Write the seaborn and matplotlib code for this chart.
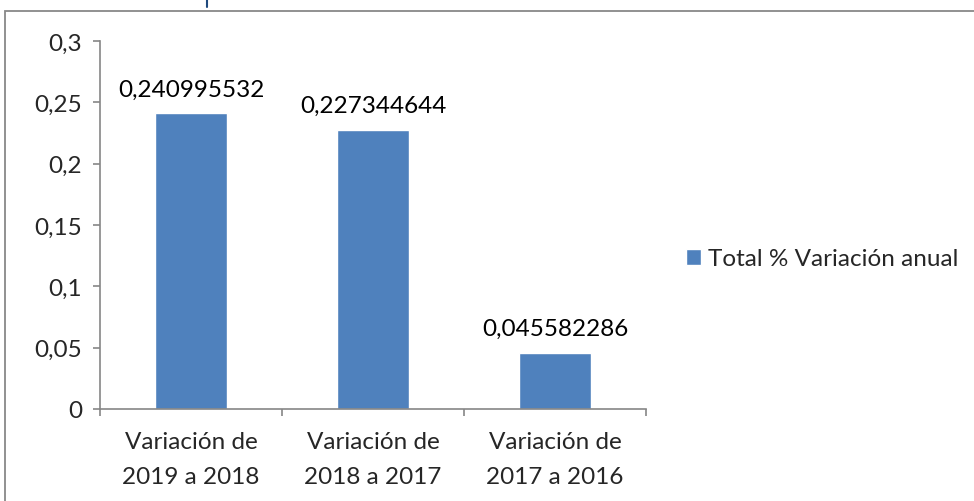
import matplotlib
matplotlib.use("Agg")
import matplotlib.pyplot as plt
import seaborn as sns
import pandas as pd
from matplotlib.patches import Rectangle
from matplotlib.lines import Line2D

categories = ["Variación de\n2019 a 2018", "Variación de\n2018 a 2017", "Variación de\n2017 a 2016"]
values = [0.240995532, 0.227344644, 0.045582286]
value_labels = ["0,240995532", "0,227344644", "0,045582286"]
yticks = [0, 0.05, 0.1, 0.15, 0.2, 0.25, 0.3]
ytick_labels = ["0", "0,05", "0,1", "0,15", "0,2", "0,25", "0,3"]
series_name = "Total % Variación anual"

sns.set_style("white")
plt.rcParams["font.family"] = ["Lato", "DejaVu Sans"]

FS = 17.5
W, H = 974, 502
fig = plt.figure(figsize=(W / 100, H / 100), dpi=100)
ax = fig.add_axes([100 / W, 1 - 410 / H, 546 / W, 368 / H])

df = pd.DataFrame({"cat": categories, "val": values, "serie": series_name})
sns.barplot(data=df, x="cat", y="val", hue="serie", palette=["#4F81BD"],
            width=0.4, ax=ax, saturation=1, legend=True)

ax.set_xlim(-0.5, 2.5)
ax.set_ylim(0, 0.3)
ax.set_yticks(yticks)
ax.set_yticklabels(ytick_labels, fontsize=FS)
ax.set_xticks([0, 1, 2])
ax.set_xticklabels(categories, fontsize=FS, linespacing=1.8)
ax.set_xlabel("")
ax.set_ylabel("")

for s in ["top", "right"]:
    ax.spines[s].set_visible(False)
for s in ["left", "bottom"]:
    ax.spines[s].set_color("#868686")
    ax.spines[s].set_linewidth(1.2)

ax.tick_params(axis="y", which="major", direction="out", length=5, width=1.2,
               color="#868686", pad=8, left=True)
ax.tick_params(axis="x", which="major", length=0, pad=16)
ax.set_xticks([-0.5, 0.5, 1.5, 2.5], minor=True)
ax.tick_params(axis="x", which="minor", direction="out", length=5, width=1.2,
               color="#868686", bottom=True)

for i, (v, lab) in enumerate(zip(values, value_labels)):
    ax.annotate(lab, (i, v), xytext=(0, 10), textcoords="offset points",
                ha="center", va="bottom", fontsize=FS, color="#000000")

leg = ax.legend(loc="center left", frameon=False, fontsize=FS,
                handlelength=0.6, handleheight=0.6,
                handletextpad=0.3, borderaxespad=0, borderpad=0)
leg.set_bbox_to_anchor((686 / W, 1 - 260 / H), transform=fig.transFigure)

# chart area border (cropped)
fig.add_artist(Rectangle((5 / W, -0.1), 1.1, 1 - 12 / H + 0.1, transform=fig.transFigure,
                         fill=False, edgecolor="#888888", linewidth=1.3))
# cropped title fragment
fig.add_artist(Line2D([207 / W, 207 / W], [1, 1 - 8 / H], transform=fig.transFigure,
                      color="#1F497D", linewidth=1.5))

fig.savefig("out.png", dpi=100)
